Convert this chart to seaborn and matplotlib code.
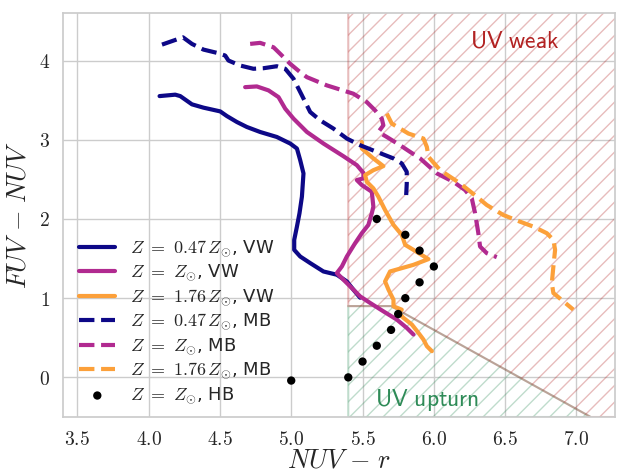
import matplotlib
matplotlib.use("Agg")
import matplotlib.pyplot as plt
import seaborn as sns
from matplotlib.ticker import FuncFormatter

# ---- tracks: (NUV-r, FUV-NUV) ----
vw_047_x = [4.077, 4.187, 4.222, 4.304, 4.385, 4.502, 4.549, 4.619, 4.689, 4.782, 4.899, 4.993,
            5.040, 5.063, 5.086, 5.075, 5.058, 5.040, 5.021, 5.021, 5.063, 5.133, 5.226, 5.320,
            5.390, 5.436, 5.483]
vw_047_y = [3.551, 3.569, 3.551, 3.447, 3.405, 3.358, 3.299, 3.224, 3.161, 3.098, 3.035, 2.952,
            2.889, 2.742, 2.575, 2.281, 2.072, 1.903, 1.736, 1.610, 1.526, 1.443, 1.337, 1.296,
            1.211, 1.107, 1.006]

vw_100_x = [4.677, 4.759, 4.841, 4.911, 4.958, 5.016, 5.110, 5.226, 5.366, 5.460, 5.506, 5.506,
            5.460, 5.495, 5.565, 5.576, 5.565, 5.541, 5.495, 5.448, 5.390, 5.355, 5.320, 5.366,
            5.425, 5.483, 5.553, 5.646, 5.740, 5.810, 5.857]
vw_100_y = [3.664, 3.673, 3.623, 3.538, 3.392, 3.267, 3.098, 2.952, 2.792, 2.679, 2.582, 2.512,
            2.491, 2.428, 2.343, 2.155, 2.072, 1.925, 1.820, 1.694, 1.526, 1.400, 1.317, 1.233,
            1.128, 1.023, 0.940, 0.834, 0.730, 0.625, 0.541]

vw_176_x = [5.495, 5.495, 5.576, 5.646, 5.576, 5.518, 5.530, 5.576, 5.611, 5.658, 5.717, 5.775,
            5.799, 5.857, 5.962, 5.857, 5.693, 5.658, 5.682, 5.717, 5.717, 5.775, 5.752, 5.787,
            5.846, 5.892, 5.927, 5.951, 5.986]
vw_176_y = [2.972, 2.889, 2.764, 2.667, 2.616, 2.553, 2.469, 2.386, 2.281, 2.113, 1.925, 1.799,
            1.673, 1.610, 1.493, 1.421, 1.337, 1.211, 1.107, 0.981, 0.897, 0.855, 0.814, 0.751,
            0.667, 0.562, 0.478, 0.394, 0.331]

mb_047_x = [4.094, 4.175, 4.241, 4.304, 4.385, 4.479, 4.537, 4.560, 4.642, 4.735, 4.806, 4.899,
            4.958, 5.016, 5.075, 5.133, 5.203, 5.296, 5.390, 5.483, 5.600, 5.717, 5.775, 5.810,
            5.810, 5.806]
mb_047_y = [4.201, 4.252, 4.293, 4.210, 4.138, 4.097, 4.063, 4.000, 3.937, 3.896, 3.903, 3.928,
            3.896, 3.770, 3.560, 3.350, 3.245, 3.141, 3.015, 2.931, 2.847, 2.764, 2.701, 2.595,
            2.449, 2.302]

mb_100_x = [4.712, 4.782, 4.876, 4.923, 4.993, 5.063, 5.110, 5.250, 5.436, 5.530, 5.588, 5.635,
            5.646, 5.611, 5.670, 5.763, 5.833, 5.904, 6.021, 6.137, 6.219, 6.266, 6.289, 6.312,
            6.324, 6.371, 6.441]
mb_100_y = [4.210, 4.223, 4.167, 4.084, 3.958, 3.853, 3.790, 3.686, 3.581, 3.475, 3.371, 3.267,
            3.182, 3.098, 3.035, 2.931, 2.847, 2.764, 2.575, 2.469, 2.365, 2.260, 2.072, 1.820,
            1.652, 1.568, 1.518]

mb_176_x = [5.670, 5.705, 5.822, 5.927, 5.951, 5.962, 6.044, 6.184, 6.301, 6.371, 6.487, 6.604,
            6.698, 6.792, 6.838, 6.850, 6.838, 6.827, 6.838, 6.908, 6.978]
mb_176_y = [3.330, 3.204, 3.078, 3.015, 2.909, 2.784, 2.616, 2.449, 2.281, 2.176, 2.050, 1.966,
            1.903, 1.820, 1.736, 1.610, 1.400, 1.191, 1.065, 0.960, 0.855]

hb_x = [5.0, 5.4, 5.5, 5.6, 5.7, 5.75, 5.8, 5.9, 6.0, 5.9, 5.8, 5.6]
hb_y = [-0.04, 0.0, 0.2, 0.4, 0.6, 0.8, 1.0, 1.2, 1.4, 1.6, 1.8, 2.0]

# classification cuts
NUV_R_CUT = 5.4
FUV_NUV_CUT = 0.9
FUV_R_CUT = 6.6

XMIN, XMAX = 3.4, 7.27
YMIN, YMAX = -0.5, 4.6

sns.set_theme(style="whitegrid")
plt.rcParams['mathtext.fontset'] = 'cm'
plt.rcParams['font.family'] = ['DejaVu Sans']

fig = plt.figure(figsize=(6.17, 4.73), dpi=100)
ax = fig.add_axes([63 / 617, 56 / 473, 552 / 617, 404 / 473])

navy, magenta, orange = '#0d0887', '#b12a90', '#fca03a'

# UV weak / UV upturn regions
x_knee = FUV_R_CUT - FUV_NUV_CUT
x_floor = FUV_R_CUT - YMIN
ax.fill([NUV_R_CUT, NUV_R_CUT, x_knee, x_floor], [YMIN, FUV_NUV_CUT, FUV_NUV_CUT, YMIN],
        facecolor='none', edgecolor='seagreen', hatch='//', alpha=0.3, lw=1.5, zorder=1)
ax.fill([NUV_R_CUT, NUV_R_CUT, XMAX + 1, XMAX + 1, x_floor, x_knee],
        [FUV_NUV_CUT, YMAX + 1, YMAX + 1, YMIN, YMIN, FUV_NUV_CUT],
        facecolor='none', edgecolor='firebrick', hatch='//', alpha=0.3, lw=1.5, zorder=1)

lw = 3
sns.lineplot(x=vw_047_x, y=vw_047_y, sort=False, estimator=None, color=navy, lw=lw,
             label=r'$Z\ {=}\ 0.47\,Z_{\odot}$, VW', ax=ax)
sns.lineplot(x=vw_100_x, y=vw_100_y, sort=False, estimator=None, color=magenta, lw=lw,
             label=r'$Z\ {=}\ Z_{\odot}$, VW', ax=ax)
sns.lineplot(x=vw_176_x, y=vw_176_y, sort=False, estimator=None, color=orange, lw=lw,
             label=r'$Z\ {=}\ 1.76\,Z_{\odot}$, VW', ax=ax)
sns.lineplot(x=mb_047_x, y=mb_047_y, sort=False, estimator=None, color=navy, lw=lw, ls='--',
             label=r'$Z\ {=}\ 0.47\,Z_{\odot}$, MB', ax=ax)
sns.lineplot(x=mb_100_x, y=mb_100_y, sort=False, estimator=None, color=magenta, lw=lw, ls='--',
             label=r'$Z\ {=}\ Z_{\odot}$, MB', ax=ax)
sns.lineplot(x=mb_176_x, y=mb_176_y, sort=False, estimator=None, color=orange, lw=lw, ls='--',
             label=r'$Z\ {=}\ 1.76\,Z_{\odot}$, MB', ax=ax)
sns.scatterplot(x=hb_x, y=hb_y, color='black', s=36, edgecolor='none', zorder=5,
                label=r'$Z\ {=}\ Z_{\odot}$, HB', ax=ax)

ax.text(6.57, 4.25, r'$\mathsf{UV\ weak}$', color='firebrick', fontsize=17, ha='center', va='center')
ax.text(5.95, -0.28, r'$\mathsf{UV\ upturn}$', color='seagreen', fontsize=17, ha='center', va='center')

ax.set_xlim(XMIN, XMAX)
ax.set_ylim(YMIN, YMAX)
ax.set_xticks([3.5, 4.0, 4.5, 5.0, 5.5, 6.0, 6.5, 7.0])
ax.set_yticks([0, 1, 2, 3, 4])
ax.xaxis.set_major_formatter(FuncFormatter(lambda v, p: f'${v:.1f}$'))
ax.yaxis.set_major_formatter(FuncFormatter(lambda v, p: f'${v:.0f}$'))
ax.tick_params(labelsize=14)
ax.set_xlabel(r'$NUV\ {-}\ r$', fontsize=19, labelpad=-1)
ax.set_ylabel(r'$FUV\ {-}\ NUV$', fontsize=19, labelpad=5)

ax.legend(loc='lower left', bbox_to_anchor=(0.0, -0.013), frameon=False, fontsize=13,
          handlelength=2.0, labelspacing=0.25)

fig.savefig('out.png', dpi=100)
